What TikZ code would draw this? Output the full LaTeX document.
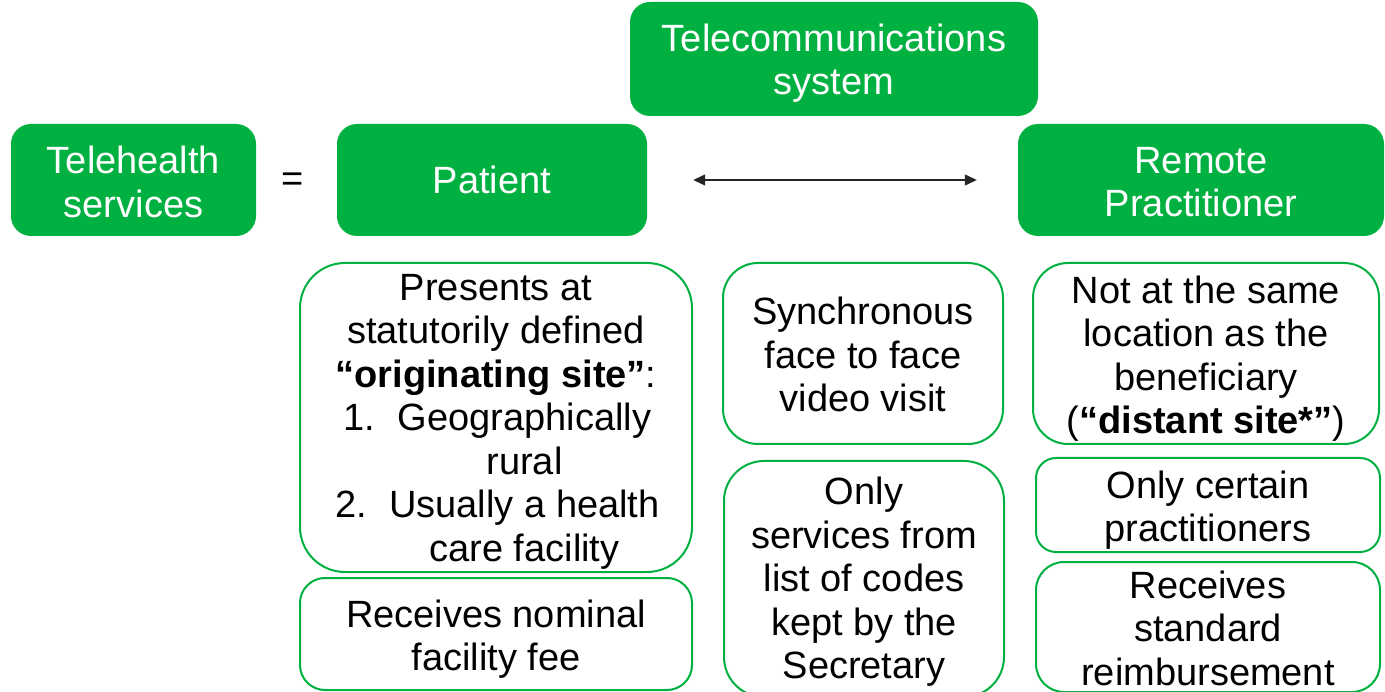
\documentclass[tikz,border=0pt]{standalone}
\usepackage{fontspec}
\setmainfont{Liberation Sans}
\usetikzlibrary{arrows.meta}
\definecolor{tgreen}{RGB}{0,176,64}
\newcommand{\numline}[3]{\rlap{\hspace*{#1}#2}\rlap{\hspace*{28.5pt}\makebox[0pt][c]{#3}}}
\begin{document}
\begin{tikzpicture}[x=1pt,y=-1pt,
  txt/.style={font=\fontsize{38}{43.5}\selectfont,align=center,inner sep=0pt},
  wtxt/.style={txt,text=white},
  greenbox/.style={fill=tgreen,draw=none,rounded corners=20pt,inner sep=0pt},
  linebox/.style={draw=tgreen,line width=2pt,fill=white,inner sep=0pt},
  link/.style={line width=1.2pt,draw=black!85,{Triangle[length=12pt,width=11pt]}-{Triangle[length=12pt,width=11pt]}}
]
\useasboundingbox (0,0) rectangle (1385,692);

% header row
\node[greenbox,minimum width=245pt,minimum height=112pt] (tele) at (133.5,180) {};
\node[wtxt] (teleT) at ([yshift=-2pt]tele.center) {Telehealth\\services};
\node[txt] (eq) at (293,182) {=};
\node[greenbox,minimum width=310pt,minimum height=112pt] (pat) at (492,180) {};
\node[wtxt] (patT) at (pat.center) {Patient};
\node[greenbox,minimum width=408pt,minimum height=114pt] (tcs) at (834,59) {};
\node[wtxt] (tcsT) at ([yshift=-4pt]tcs.center) {Telecommunications\\system};
\node[greenbox,minimum width=366pt,minimum height=112pt] (rem) at (1201,180) {};
\node[wtxt] (remT) at ([yshift=-2pt]rem.center) {Remote\\Practitioner};
\draw[link] ([xshift=46pt]pat.east) -- ([xshift=-41pt]rem.west);

% patient column
\node[linebox,rounded corners=45pt,minimum width=392pt,minimum height=309pt] (pres) at (496,417.5) {};
\node[txt] (presT) at ([yshift=-4pt]pres.center)
  {Presents at\\statutorily defined\\{\bfseries “originating site”}:\\
   \numline{-153pt}{1.}{Geographically}\\
   \numline{-153pt}{}{rural}\\
   \numline{-161pt}{2.}{Usually a health}\\
   \numline{-161pt}{}{care facility}};
\node[linebox,rounded corners=25pt,minimum width=392pt,minimum height=112pt] (recn) at (496,634) {};
\node[txt] (recnT) at ([yshift=-5pt]recn.center) {Receives nominal\\facility fee};

% telecom column
\node[linebox,rounded corners=35pt,minimum width=280pt,minimum height=181pt] (sync) at (863,353.5) {};
\node[txt] (syncT) at ([yshift=-1pt]sync.center) {Synchronous\\face to face\\video visit};
\node[linebox,rounded corners=40pt,minimum width=280pt,minimum height=236pt] (onlys) at (864,579) {};
\node[txt] (onlysT) at ([yshift=-3pt]onlys.center) {Only\\services from\\list of codes\\kept by the\\Secretary};

% practitioner column
\node[linebox,rounded corners=35pt,minimum width=346pt,minimum height=181pt] (notat) at (1206,353.5) {};
\node[txt] (notatT) at ([yshift=-5pt]notat.center)
  {Not at the same\\location as the\\beneficiary\\({\bfseries “distant site*”})};
\node[linebox,rounded corners=20pt,minimum width=344pt,minimum height=94pt] (onlyc) at (1208,505) {};
\node[txt] (onlycT) at ([yshift=-5pt]onlyc.center) {Only certain\\practitioners};
\node[linebox,rounded corners=28pt,minimum width=344pt,minimum height=130pt] (recs) at (1208,627) {};
\node[txt] (recsT) at ([yshift=-1pt]recs.center) {Receives\\standard\\reimbursement};
\end{tikzpicture}
\end{document}
